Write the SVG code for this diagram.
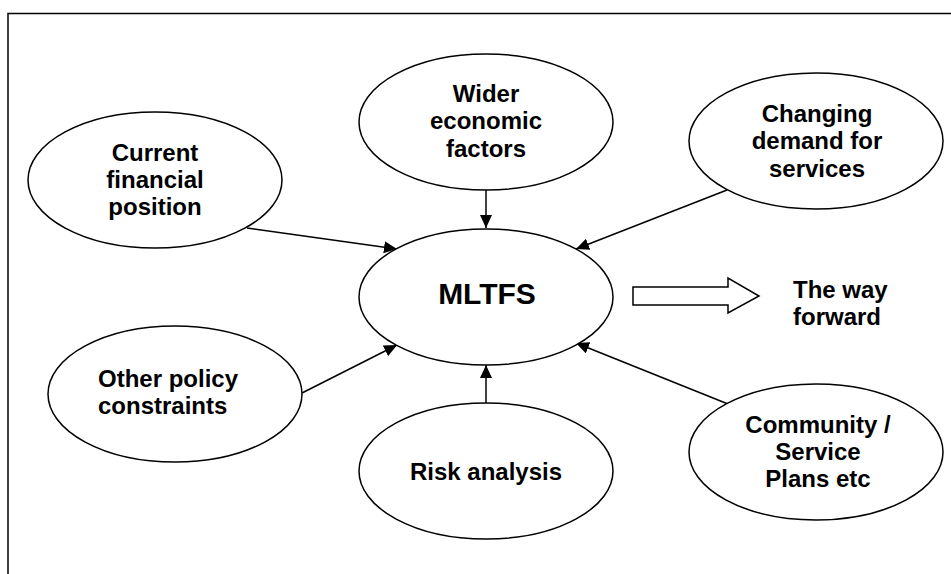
<svg xmlns="http://www.w3.org/2000/svg" width="951" height="574" viewBox="0 0 951 574">
<style>
.node ellipse{fill:#fff;stroke:#000;stroke-width:1.5}
text{font-family:"Liberation Sans",Arial,sans-serif;font-weight:bold;font-size:24px;fill:#000}
.c{text-anchor:middle}
.conn line{stroke:#000;stroke-width:1.5;marker-end:url(#ah)}
</style>
<defs>
<marker id="ah" markerUnits="userSpaceOnUse" markerWidth="14" markerHeight="13" refX="13" refY="6" orient="auto" viewBox="0 0 14 13">
<path d="M0,0 L13,6 L0,12 z" fill="#000"/>
</marker>
</defs>
<rect width="951" height="574" fill="#fff"/>
<g id="frame" stroke="#000" stroke-width="1.5" fill="none">
<path d="M8,574 V13.5 H951"/>
</g>
<g id="connectors" class="conn">
<line x1="247" y1="228" x2="397" y2="249"/>
<line x1="486" y1="190" x2="486" y2="228"/>
<line x1="727" y1="190" x2="576" y2="249"/>
<line x1="302" y1="393" x2="397" y2="345"/>
<line x1="486" y1="403" x2="486" y2="365"/>
<line x1="728" y1="404" x2="576" y2="343"/>
<path id="block-arrow" d="M633,287 H728 V278 L759,296 L728,313 V305 H633 Z" fill="#fff" stroke="#000" stroke-width="1.5"/>
</g>
<g id="n-current" class="node">
<ellipse cx="155" cy="180" rx="127" ry="68"/>
<text class="c" x="155" y="161">Current</text>
<text class="c" x="155" y="188">financial</text>
<text class="c" x="155" y="215">position</text>
</g>
<g id="n-wider" class="node">
<ellipse cx="486" cy="122" rx="127" ry="68"/>
<text class="c" x="486" y="102">Wider</text>
<text class="c" x="486" y="129">economic</text>
<text class="c" x="486" y="157">factors</text>
</g>
<g id="n-changing" class="node">
<ellipse cx="816" cy="141" rx="127" ry="68"/>
<text class="c" x="817" y="122">Changing</text>
<text class="c" x="817" y="149">demand for</text>
<text class="c" x="817" y="177">services</text>
</g>
<g id="n-mltfs" class="node">
<ellipse cx="486" cy="297" rx="127" ry="68"/>
<text class="c" x="487" y="304" style="font-size:30px">MLTFS</text>
</g>
<g id="n-other" class="node">
<ellipse cx="175" cy="394" rx="127" ry="68"/>
<text x="98" y="387">Other policy</text>
<text x="98" y="414">constraints</text>
</g>
<g id="n-risk" class="node">
<ellipse cx="486" cy="471" rx="127" ry="68"/>
<text class="c" x="486" y="480">Risk analysis</text>
</g>
<g id="n-community" class="node">
<ellipse cx="816" cy="452" rx="127" ry="68"/>
<text class="c" x="818" y="433">Community /</text>
<text class="c" x="818" y="460">Service</text>
<text class="c" x="818" y="487">Plans etc</text>
</g>
<g id="n-way">
<text x="793" y="298">The way</text>
<text x="793" y="325">forward</text>
</g>
</svg>
